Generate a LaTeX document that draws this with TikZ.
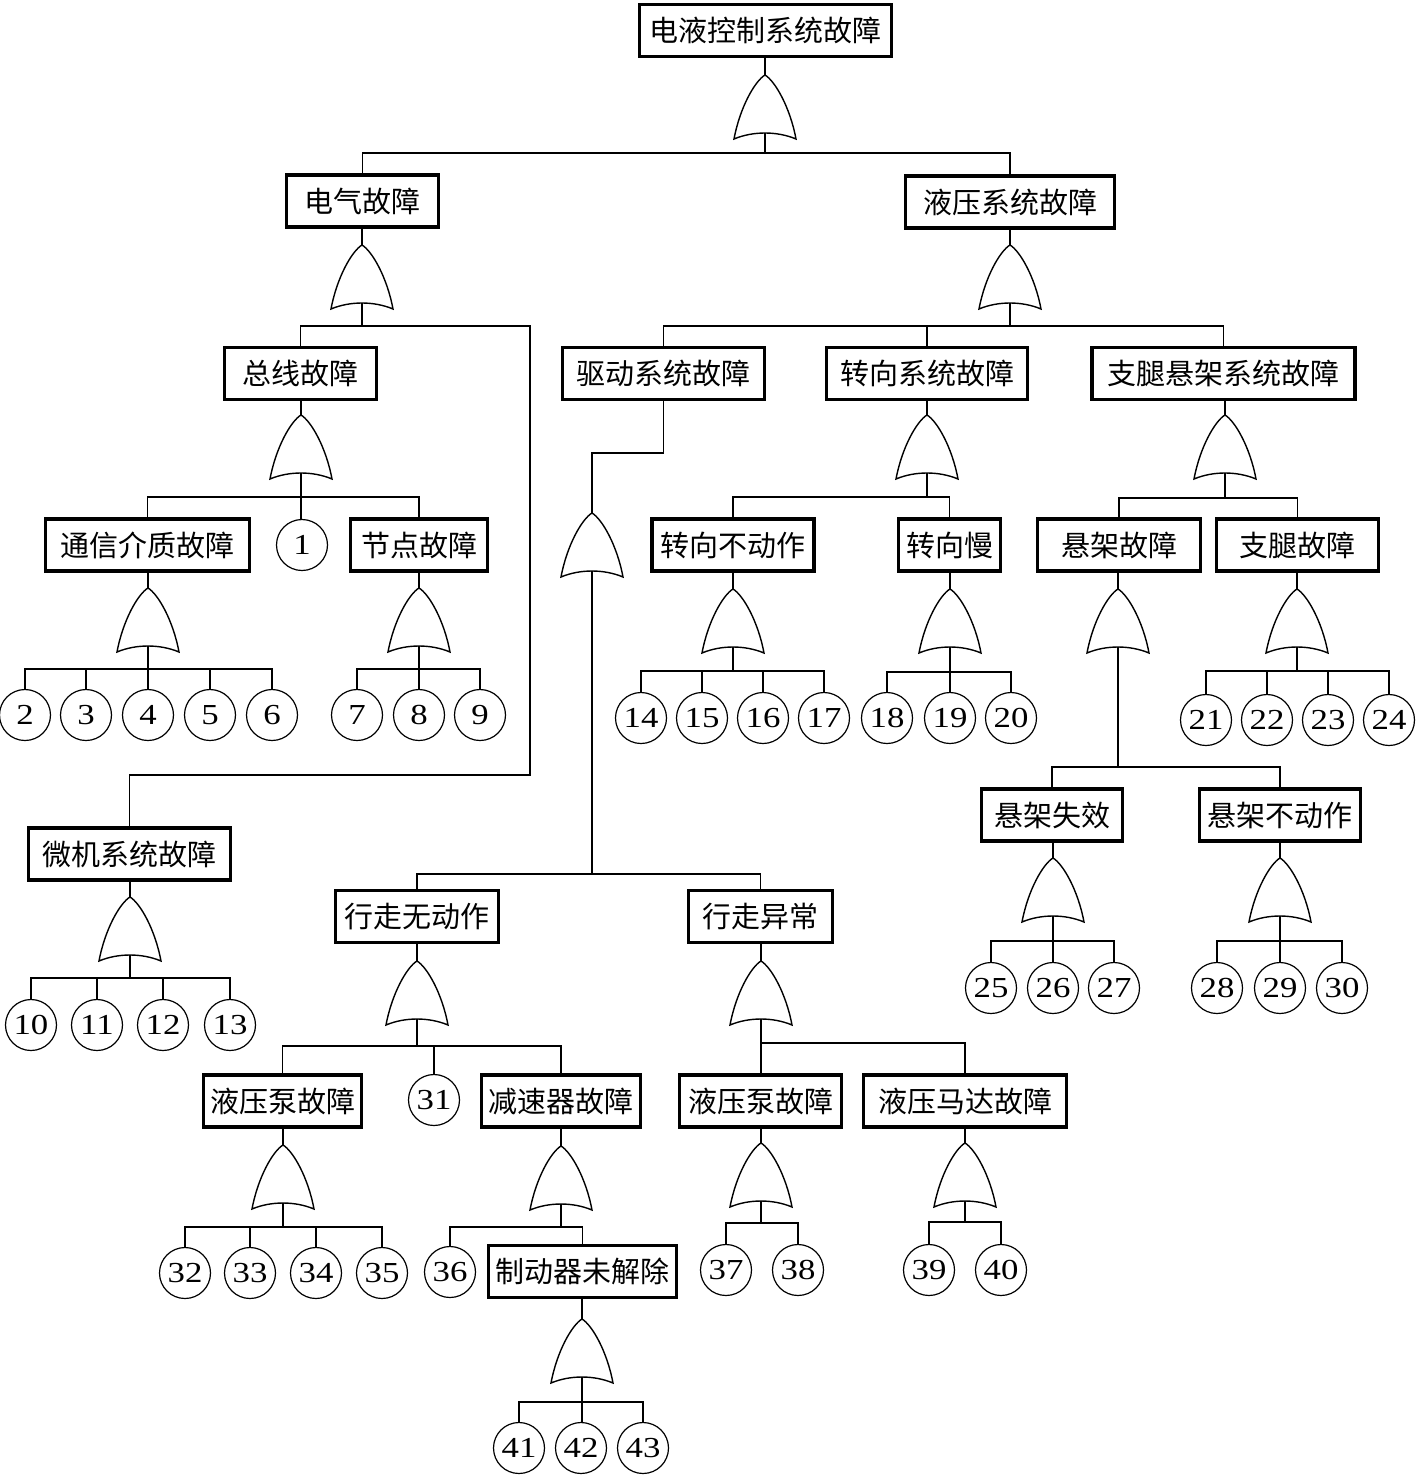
\documentclass[tikz,border=0pt]{standalone}
\usepackage{fontspec}
\setmainfont{Liberation Serif}
\newfontfamily\cjk{Noto Sans CJK SC}
\newfontfamily\numfont{Liberation Serif}[FakeStretch=1.2]
\begin{document}
\begin{tikzpicture}[x=1pt,y=-1pt,
  box/.style={draw, line width=3.2pt, minimum height=52pt, inner sep=0pt, font=\cjk\fontsize{29}{34}\selectfont},
  evt/.style={draw, circle, line width=1.2pt, minimum size=51pt, inner sep=0pt, font=\numfont\fontsize{29}{31}\selectfont},
  conn/.style={line width=1.3pt},
  orgate/.pic={
    \draw[line width=1.4pt, fill=white] (-31,64) .. controls (-25,32) and (-10,6) .. (0,0)
      .. controls (10,6) and (25,32) .. (31,64)
      .. controls (12,56) and (-12,56) .. (-31,64) -- cycle;
    \coordinate (-in) at (0,0);
    \coordinate (-out) at (0,58);
  }
]
\useasboundingbox (0,0) rectangle (1416,1476);

% ---------- boxes ----------
\node[box, minimum width=252pt] (top)  at (765.5,30.5) {电液控制系统故障};
\node[box, minimum width=152pt] (e1)   at (362.5,201) {电气故障};
\node[box, minimum width=209pt] (h1)   at (1010,202) {液压系统故障};
\node[box, minimum width=152pt] (bus)  at (300.5,373.5) {总线故障};
\node[box, minimum width=202pt] (drive) at (663.5,373.5) {驱动系统故障};
\node[box, minimum width=201pt] (steer) at (927,373.5) {转向系统故障};
\node[box, minimum width=263pt] (leg)  at (1223.5,373.5) {支腿悬架系统故障};
\node[box, minimum width=204pt] (comm) at (147.5,545) {通信介质故障};
\node[box, minimum width=137pt] (nd)   at (419,545) {节点故障};
\node[box, minimum width=162pt] (sn)   at (733,545) {转向不动作};
\node[box, minimum width=102pt] (ss)   at (949.5,545) {转向慢};
\node[box, minimum width=163pt] (sf)   at (1119,545) {悬架故障};
\node[box, minimum width=162pt] (lf)   at (1297.5,545) {支腿故障};
\node[box, minimum width=141pt] (sx)   at (1052,815) {悬架失效};
\node[box, minimum width=161pt] (sy)   at (1280,815) {悬架不动作};
\node[box, minimum width=202pt] (mc)   at (129.5,854) {微机系统故障};
\node[box, minimum width=163pt] (wn)   at (417,916.5) {行走无动作};
\node[box, minimum width=144pt] (wa)   at (760.5,916.5) {行走异常};
\node[box, minimum width=158pt] (hp1)  at (282.5,1101) {液压泵故障};
\node[box, minimum width=159pt] (rd)   at (561,1101) {减速器故障};
\node[box, minimum width=162pt] (hp2)  at (760.5,1101) {液压泵故障};
\node[box, minimum width=203pt] (hm)   at (965,1101) {液压马达故障};
\node[box, minimum width=188pt] (br)   at (582.5,1271.5) {制动器未解除};

% ---------- basic events ----------
\node[evt] (c1) at (302,545) {1};
\foreach \n/\x in {2/25,3/86,4/148,5/210,6/272,7/357,8/419,9/480}
  \node[evt] (c\n) at (\x,715) {\n};
\foreach \n/\x in {10/31,11/97,12/163,13/230}
  \node[evt] (c\n) at (\x,1025) {\n};
\foreach \n/\x in {14/641,15/702,16/763,17/824,18/887,19/950,20/1011}
  \node[evt] (c\n) at (\x,718) {\n};
\foreach \n/\x in {21/1206,22/1267,23/1328,24/1389}
  \node[evt] (c\n) at (\x,720) {\n};
\foreach \n/\x in {25/991,26/1053,27/1114,28/1217,29/1280,30/1342}
  \node[evt] (c\n) at (\x,988) {\n};
\node[evt] (c31) at (434,1100) {31};
\foreach \n/\x in {32/185,33/250,34/316,35/382}
  \node[evt] (c\n) at (\x,1273) {\n};
\node[evt] (c36) at (450,1272) {36};
\foreach \n/\x in {37/726,38/798,39/929,40/1001}
  \node[evt] (c\n) at (\x,1270) {\n};
\foreach \n/\x in {41/519,42/581,43/643}
  \node[evt] (c\n) at (\x,1448) {\n};

% ---------- gates ----------
\pic (g0)   at (765,75)   {orgate};
\pic (ge)   at (362,245)  {orgate};
\pic (gh)   at (1010,245) {orgate};
\pic (gbus) at (301,415)  {orgate};
\pic (gdr)  at (592,513)  {orgate};
\pic (gst)  at (927,415)  {orgate};
\pic (glg)  at (1225,415) {orgate};
\pic (gcm)  at (148,588)  {orgate};
\pic (gnd)  at (419,588)  {orgate};
\pic (gsn)  at (733,589)  {orgate};
\pic (gss)  at (950,589)  {orgate};
\pic (gsf)  at (1118,589) {orgate};
\pic (glf)  at (1297,589) {orgate};
\pic (gmc)  at (130,897)  {orgate};
\pic (gsx)  at (1053,858) {orgate};
\pic (gsy)  at (1280,858) {orgate};
\pic (gwn)  at (417,961)  {orgate};
\pic (gwa)  at (761,961)  {orgate};
\pic (ghp1) at (283,1145) {orgate};
\pic (grd)  at (561,1146) {orgate};
\pic (ghp2) at (761,1143) {orgate};
\pic (ghm)  at (965,1143) {orgate};
\pic (gbr)  at (582,1319) {orgate};

% ---------- junctions ----------
\coordinate (j0)   at (765,153);
\coordinate (je)   at (362,326);
\coordinate (jm)   at (530,775);
\coordinate (jh)   at (1010,326);
\coordinate (jb)   at (301,497);
\coordinate (jc)   at (148,669);
\coordinate (jn)   at (419,669);
\coordinate (kd)   at (592,453);
\coordinate (jw)   at (592,874);
\coordinate (js)   at (927,497);
\coordinate (jsn)  at (733,671);
\coordinate (jss)  at (950,672);
\coordinate (jl)   at (1225,498);
\coordinate (jf)   at (1118,767);
\coordinate (jlf)  at (1297,671);
\coordinate (jmc)  at (130,978);
\coordinate (jsx)  at (1053,941);
\coordinate (jsy)  at (1280,941);
\coordinate (jwn)  at (417,1046);
\coordinate (jwa)  at (761,1043);
\coordinate (jhp1) at (283,1227);
\coordinate (jrd)  at (561,1227);
\coordinate (jhp2) at (761,1223);
\coordinate (jhm)  at (965,1222);
\coordinate (jbr)  at (582,1402);

% ---------- connectors ----------
\begin{scope}[conn]
% top
\draw (g0-in |- top.south) -- (g0-in);
\draw (g0-out) -- (j0);
\draw (e1.north) |- (j0) -| (h1.north);
% electrical
\draw (ge-in |- e1.south) -- (ge-in);
\draw (ge-out) -- (je);
\draw (bus.north) |- (je);
\draw (je) -| (jm) -| (mc.north);
% hydraulic
\draw (gh-in |- h1.south) -- (gh-in);
\draw (gh-out) -- (jh);
\draw (drive.north) |- (jh) -| (leg.north);
\draw (steer.north) -- (steer.north |- jh);
% bus
\draw (gbus-in |- bus.south) -- (gbus-in);
\draw (gbus-out) -- (gbus-out |- c1.north);
\draw (comm.north) |- (jb) -| (nd.north);
% comm medium
\draw (gcm-in |- comm.south) -- (gcm-in);
\draw (gcm-out) -- (gcm-out |- c4.north);
\draw (c2.north) |- (jc) -| (c6.north);
\draw (c3.north) -- (c3.north |- jc);
\draw (c5.north) -- (c5.north |- jc);
% node
\draw (gnd-in |- nd.south) -- (gnd-in);
\draw (gnd-out) -- (gnd-out |- c8.north);
\draw (c7.north) |- (jn) -| (c9.north);
% microcomputer
\draw (gmc-in |- mc.south) -- (gmc-in);
\draw (gmc-out) -- (jmc);
\draw (c10.north) |- (jmc) -| (c13.north);
\draw (c11.north) -- (c11.north |- jmc);
\draw (c12.north) -- (c12.north |- jmc);
% drive
\draw (drive.south) |- (kd) -- (gdr-in);
\draw (gdr-out) -- (jw);
\draw (wn.north) |- (jw) -| (wa.north);
% steering
\draw (gst-in |- steer.south) -- (gst-in);
\draw (gst-out) -- (js);
\draw (sn.north) |- (js) -| (ss.north);
\draw (gsn-in |- sn.south) -- (gsn-in);
\draw (gsn-out) -- (jsn);
\draw (c14.north) |- (jsn) -| (c17.north);
\draw (c15.north) -- (c15.north |- jsn);
\draw (c16.north) -- (c16.north |- jsn);
\draw (gss-in |- ss.south) -- (gss-in);
\draw (gss-out) -- (gss-out |- c19.north);
\draw (c18.north) |- (jss) -| (c20.north);
% legs / suspension
\draw (glg-in |- leg.south) -- (glg-in);
\draw (glg-out) -- (jl);
\draw (sf.north) |- (jl) -| (lf.north);
\draw (gsf-in |- sf.south) -- (gsf-in);
\draw (gsf-out) -- (jf);
\draw (sx.north) |- (jf) -| (sy.north);
\draw (glf-in |- lf.south) -- (glf-in);
\draw (glf-out) -- (jlf);
\draw (c21.north) |- (jlf) -| (c24.north);
\draw (c22.north) -- (c22.north |- jlf);
\draw (c23.north) -- (c23.north |- jlf);
\draw (gsx-in |- sx.south) -- (gsx-in);
\draw (gsx-out) -- (gsx-out |- c26.north);
\draw (c25.north) |- (jsx) -| (c27.north);
\draw (gsy-in |- sy.south) -- (gsy-in);
\draw (gsy-out) -- (gsy-out |- c29.north);
\draw (c28.north) |- (jsy) -| (c30.north);
% walking no action
\draw (gwn-in |- wn.south) -- (gwn-in);
\draw (gwn-out) -- (jwn);
\draw (hp1.north) |- (jwn) -| (rd.north);
\draw (c31.north) -- (c31.north |- jwn);
\draw (ghp1-in |- hp1.south) -- (ghp1-in);
\draw (ghp1-out) -- (jhp1);
\draw (c32.north) |- (jhp1) -| (c35.north);
\draw (c33.north) -- (c33.north |- jhp1);
\draw (c34.north) -- (c34.north |- jhp1);
\draw (grd-in |- rd.south) -- (grd-in);
\draw (grd-out) -- (jrd);
\draw (c36.north) |- (jrd) -| (br.north);
\draw (gbr-in |- br.south) -- (gbr-in);
\draw (gbr-out) -- (gbr-out |- c42.north);
\draw (c41.north) |- (jbr) -| (c43.north);
% walking abnormal
\draw (gwa-in |- wa.south) -- (gwa-in);
\draw (gwa-out) -- (gwa-out |- hp2.north);
\draw (jwa) -| (hm.north);
\draw (ghp2-in |- hp2.south) -- (ghp2-in);
\draw (ghp2-out) -- (jhp2);
\draw (c37.north) |- (jhp2) -| (c38.north);
\draw (ghm-in |- hm.south) -- (ghm-in);
\draw (ghm-out) -- (jhm);
\draw (c39.north) |- (jhm) -| (c40.north);
\end{scope}
\end{tikzpicture}
\end{document}
